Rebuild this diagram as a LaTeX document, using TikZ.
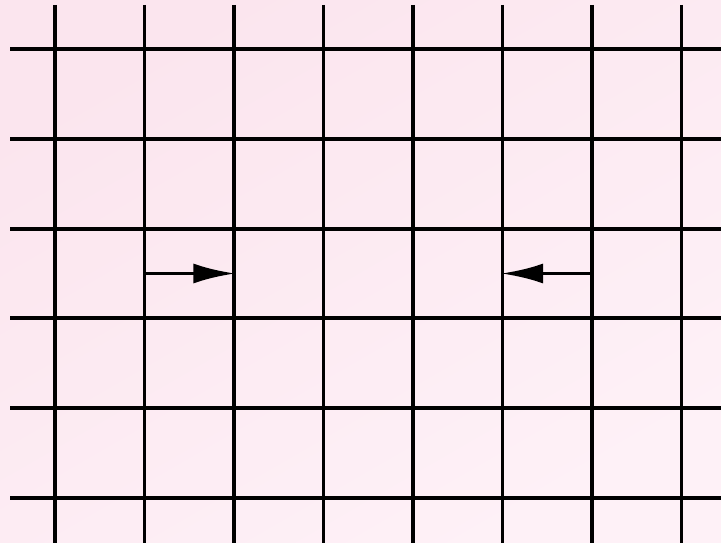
\documentclass[tikz,border=0pt]{standalone}
\usepackage{tikz}
\usetikzlibrary{arrows.meta, positioning}

\definecolor{bgpinkA}{RGB}{251,229,238}
\definecolor{bgpinkB}{RGB}{254,241,247}

\begin{document}
\begin{tikzpicture}[
        x=0.025cm, y=-0.025cm,
        gridline/.style={
            draw=black,
            line width=2.8pt
        },
        flowarrow/.style={
            -{Latex[length=1.05cm, width=0.5cm]},
            line width=2.8pt,
            draw=black,
            shorten >=-1pt
        }
    ]

    % Background
    \shade[shading=axis, top color=bgpinkA, bottom color=bgpinkB, shading angle=30]
        (0,0) rectangle (721,543);
    \useasboundingbox (0,0) rectangle (721,543);

    % Vertical lines
    \foreach \i in {0,...,7} {
        \draw[gridline] ({55+89.5*\i},5) -- ({55+89.5*\i},543);
    }

    % Horizontal lines
    \foreach \j in {0,...,5} {
        \draw[gridline] (10,{49+89.8*\j}) -- (721,{49+89.8*\j});
    }

    % Arrow end points
    \coordinate (leftstart) at (144.5,273.5);
    \coordinate (leftend) at (234,273.5);
    \coordinate (rightstart) at (592,273.5);
    \coordinate (rightend) at (502.5,273.5);

    % Arrows
    \draw[flowarrow] (leftstart) -- (leftend);
    \draw[flowarrow] (rightstart) -- (rightend);

\end{tikzpicture}
\end{document}
